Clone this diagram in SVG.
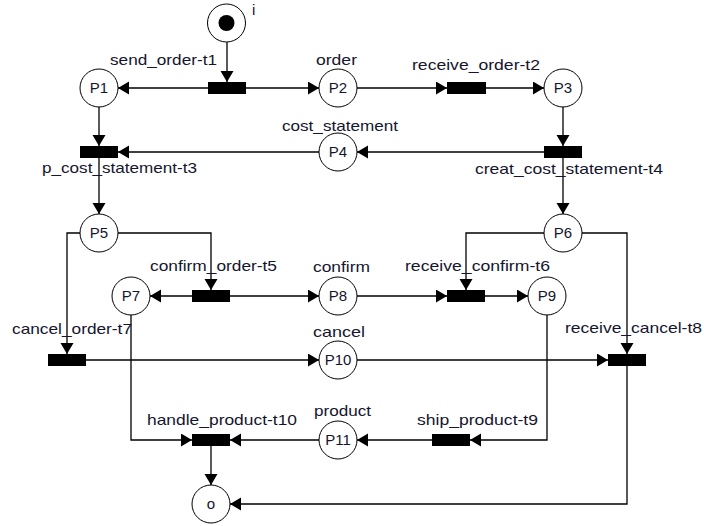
<svg xmlns="http://www.w3.org/2000/svg" width="704" height="526" viewBox="0 0 704 526">
  <defs>
    <marker id="arrow" markerUnits="userSpaceOnUse" markerWidth="12" markerHeight="14" refX="11" refY="6.5" orient="auto">
      <path d="M0,0 L11,6.5 L0,13 z" fill="#000"/>
    </marker>
    <style>
      .place { fill: #fff; stroke: #000; stroke-width: 1; }
      .trans { fill: #000; }
      .edge { fill: none; stroke: #000; stroke-width: 1.3; marker-end: url(#arrow); }
      text { font-family: "Liberation Sans", Arial, sans-serif; font-size: 15px; fill: #15152e; }
      .pl { text-anchor: middle; }
    </style>
  </defs>
  <rect width="704" height="526" fill="#fff"/>

  <!-- arcs -->
  <g id="connectors">
    <path class="edge" d="M227,42 V82"/>
    <path class="edge" d="M208,88 H118"/>
    <path class="edge" d="M246,88 H319"/>
    <path class="edge" d="M357,88 H447"/>
    <path class="edge" d="M486,88 H544"/>
    <path class="edge" d="M563,107 V146"/>
    <path class="edge" d="M544,152 H357"/>
    <path class="edge" d="M319,152 H118"/>
    <path class="edge" d="M99,107 V146"/>
    <path class="edge" d="M99,158 V214"/>
    <path class="edge" d="M563,158 V214"/>
    <path class="edge" d="M118,233 H211 V290"/>
    <path class="edge" d="M80,233 H67 V354"/>
    <path class="edge" d="M192,296 H150"/>
    <path class="edge" d="M230,296 H319"/>
    <path class="edge" d="M357,296 H447"/>
    <path class="edge" d="M485,296 H528"/>
    <path class="edge" d="M544,233 H466 V290"/>
    <path class="edge" d="M582,233 H627 V354"/>
    <path class="edge" d="M86,360 H319"/>
    <path class="edge" d="M357,360 H608"/>
    <path class="edge" d="M131,315 V440 H192"/>
    <path class="edge" d="M547,315 V440 H470"/>
    <path class="edge" d="M432,440 H357"/>
    <path class="edge" d="M319,440 H230"/>
    <path class="edge" d="M211,446 V485"/>
    <path class="edge" d="M627,366 V504 H230"/>
  </g>

  <!-- places -->
  <g id="i"><circle class="place" cx="226.5" cy="23" r="19"/><circle cx="226.5" cy="23" r="8" fill="#000"/><text x="252" y="15">i</text></g>
  <g id="P1"><circle class="place" cx="99" cy="88" r="19"/><text class="pl" x="99" y="93">P1</text></g>
  <g id="P2"><circle class="place" cx="338" cy="88" r="19"/><text class="pl" x="338" y="93">P2</text><text x="316" y="65" textLength="41" lengthAdjust="spacingAndGlyphs">order</text></g>
  <g id="P3"><circle class="place" cx="563" cy="88" r="19"/><text class="pl" x="563" y="93">P3</text></g>
  <g id="P4"><circle class="place" cx="338" cy="152" r="19"/><text class="pl" x="338" y="157">P4</text><text x="282" y="131" textLength="116" lengthAdjust="spacingAndGlyphs">cost_statement</text></g>
  <g id="P5"><circle class="place" cx="99" cy="233" r="19"/><text class="pl" x="99" y="238">P5</text></g>
  <g id="P6"><circle class="place" cx="563" cy="233" r="19"/><text class="pl" x="563" y="238">P6</text></g>
  <g id="P7"><circle class="place" cx="131" cy="296" r="19"/><text class="pl" x="131" y="301">P7</text></g>
  <g id="P8"><circle class="place" cx="338" cy="296" r="19"/><text class="pl" x="338" y="301">P8</text><text x="313" y="272" textLength="57" lengthAdjust="spacingAndGlyphs">confirm</text></g>
  <g id="P9"><circle class="place" cx="547" cy="296" r="19"/><text class="pl" x="547" y="301">P9</text></g>
  <g id="P10"><circle class="place" cx="338" cy="360" r="19"/><text class="pl" x="338" y="365">P10</text><text x="313" y="337" textLength="52" lengthAdjust="spacingAndGlyphs">cancel</text></g>
  <g id="P11"><circle class="place" cx="338" cy="440" r="19"/><text class="pl" x="338" y="445">P11</text><text x="314" y="416" textLength="57" lengthAdjust="spacingAndGlyphs">product</text></g>
  <g id="o"><circle class="place" cx="211" cy="504" r="19"/><text class="pl" x="211" y="509">o</text></g>

  <!-- transitions -->
  <g id="t1"><rect class="trans" x="208" y="82" width="38" height="12"/><text x="110" y="65" textLength="107" lengthAdjust="spacingAndGlyphs">send_order-t1</text></g>
  <g id="t2"><rect class="trans" x="447" y="82" width="39" height="12"/><text x="412" y="70" textLength="128" lengthAdjust="spacingAndGlyphs">receive_order-t2</text></g>
  <g id="t3"><rect class="trans" x="80" y="146" width="38" height="12"/><text x="42" y="173" textLength="155" lengthAdjust="spacingAndGlyphs">p_cost_statement-t3</text></g>
  <g id="t4"><rect class="trans" x="544" y="146" width="38" height="12"/><text x="475" y="174" textLength="188" lengthAdjust="spacingAndGlyphs">creat_cost_statement-t4</text></g>
  <g id="t5"><rect class="trans" x="192" y="290" width="38" height="12"/><text x="150" y="271" textLength="127" lengthAdjust="spacingAndGlyphs">confirm_order-t5</text></g>
  <g id="t6"><rect class="trans" x="447" y="290" width="38" height="12"/><text x="405" y="271" textLength="145" lengthAdjust="spacingAndGlyphs">receive_confirm-t6</text></g>
  <g id="t7"><rect class="trans" x="48" y="354" width="38" height="12"/><text x="12" y="334" textLength="120" lengthAdjust="spacingAndGlyphs">cancel_order-t7</text></g>
  <g id="t8"><rect class="trans" x="608" y="354" width="38" height="12"/><text x="565" y="333" textLength="137" lengthAdjust="spacingAndGlyphs">receive_cancel-t8</text></g>
  <g id="t9"><rect class="trans" x="432" y="434" width="38" height="12"/><text x="417" y="425" textLength="121" lengthAdjust="spacingAndGlyphs">ship_product-t9</text></g>
  <g id="t10"><rect class="trans" x="192" y="434" width="38" height="12"/><text x="147" y="425" textLength="150" lengthAdjust="spacingAndGlyphs">handle_product-t10</text></g>
</svg>
